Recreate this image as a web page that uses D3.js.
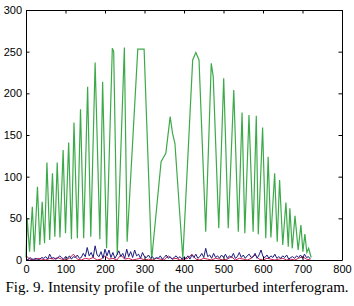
<!DOCTYPE html>
<html>
<head>
<meta charset="utf-8">
<script src="https://cdn.jsdelivr.net/npm/d3@7"></script>
<style>
  body { margin: 0; background: #fff; }
  svg { display: block; }
</style>
</head>
<body>
<svg id="chart" width="354" height="306"></svg>
<script>
// green: intensity profile (x, value)
var greenX = [0, 3, 9, 16, 21, 29, 35, 41, 47, 53, 60, 67, 73, 79, 86, 94, 100, 108, 115, 121.5, 130, 138, 146, 156, 164, 175, 187, 194, 204, 218.5, 222, 231, 249, 256, 283, 299, 318, 342, 354, 365, 371, 377, 397, 422, 430, 438, 455, 469, 474, 488, 500.5, 512, 526, 537.5, 547, 554, 564.5, 575, 583, 588, 599, 607, 613, 620, 629.5, 636, 642, 650, 658, 664, 668, 674, 681, 689, 696, 701, 706, 711, 715.5, 722];
var greenY = [3, 50, 10, 64, 10, 88, 18, 70, 20, 117, 24, 104, 28, 117, 27, 132, 32, 141, 25, 165, 26, 181, 26, 208, 28, 237, 25, 214, 14, 254, 250, 6, 255, 22, 253, 253, 0, 118, 128, 172, 152, 140, 2, 240, 249, 240, 34, 236, 220, 38, 218, 38, 204, 34, 177, 32, 174, 34, 173, 31, 159, 26, 124, 27, 104, 22, 96, 18, 69, 16, 62, 14, 53, 12, 42, 10, 31, 9, 14, 3];

// blue and red: low-level noise, sampled every 5 and 10 units
var blueStep = 5;
var blueY = [
  2, 0, 3, 1, 1, 2, 0, 1, 3, 2, 4, 1, 7, 2, 3, 1, 2, 5, 3, 1, 4,
  2, 5, 1, 4, 3, 6, 2, 3, 8, 4, 15, 5, 9, 3, 17, 6, 4, 10, 2, 13,
  5, 12, 3, 9, 2, 6, 11, 4, 8, 2, 13, 4, 10, 3, 12, 5, 7, 2, 9, 4,
  3, 6, 2, 4, 1, 3, 2, 5, 1, 3, 6, 2, 4, 1, 3, 5, 2, 4, 1, 3,
  2, 5, 1, 6, 3, 7, 2, 4, 8, 3, 14, 4, 6, 2, 8, 3, 5, 2, 6, 3,
  7, 2, 5, 3, 8, 2, 4, 9, 3, 6, 2, 5, 7, 3, 4, 8, 2, 6, 12, 4,
  3, 6, 2, 5, 3, 7, 2, 4, 2, 5, 3, 6, 1, 3, 4, 2, 5, 3, 6, 2,
  7, 3, 4, 1
];
var redStep = 10;
var redY = [
  5, 1, 0, 2, 1, 0, 2, 1, 3, 1, 0, 2, 7, 1, 0, 2, 1, 3, 0, 1,
  5, 1, 2, 0, 6, 1, 2, 0, 1, 2, 0, 1, 0, 2, 1, 0, 5, 1, 2, 0,
  1, 2, 7, 1, 0, 2, 1, 0, 2, 1, 0, 1, 4, 0, 2, 1, 0, 2, 6, 1,
  0, 2, 1, 0, 1, 2, 0, 1, 0, 2, 4, 1, 0
];

var xTicks = [0, 100, 200, 300, 400, 500, 600, 700, 800];
var yTicks = [0, 50, 100, 150, 200, 250, 300];
var caption = 'Fig. 9. Intensity profile of the unperturbed interferogram.';

var svg = d3.select('#chart');
var mLeft = 26, mRight = 342, mTop = 10, mBottom = 260;

var x = d3.scaleLinear().domain([0, 800]).range([mLeft, mRight]);
var y = d3.scaleLinear().domain([0, 300]).range([mBottom, mTop]);

var line = d3.line().x(d => x(d[0])).y(d => y(d[1]));

var green = greenX.map((v, i) => [v, greenY[i]]);
var blue = blueY.map((v, i) => [i * blueStep, v]);
var red = redY.map((v, i) => [i * redStep, v]);

svg.append('path').attr('d', line(green))
  .attr('fill', 'none').attr('stroke', '#3daa4a').attr('stroke-width', 1.2);
svg.append('path').attr('d', line(red))
  .attr('fill', 'none').attr('stroke', '#d0204f').attr('stroke-width', 1);
svg.append('path').attr('d', line(blue))
  .attr('fill', 'none').attr('stroke', '#1c1c80').attr('stroke-width', 1);

// axes, MATLAB style box with inward ticks
var tick = 3.5;
var font = 'Liberation Sans, Arial, sans-serif';

var xAxis = svg.append('g').attr('transform', `translate(0,${mBottom})`)
  .call(d3.axisBottom(x).tickValues(xTicks).tickSizeInner(-tick).tickSizeOuter(0).tickPadding(5));
var yAxis = svg.append('g').attr('transform', `translate(${mLeft},0)`)
  .call(d3.axisLeft(y).tickValues(yTicks).tickSizeInner(-tick).tickSizeOuter(0).tickPadding(4));
var xTop = svg.append('g').attr('transform', `translate(0,${mTop})`)
  .call(d3.axisTop(x).tickValues(xTicks).tickSizeInner(-tick).tickSizeOuter(0).tickFormat(''));
var yRight = svg.append('g').attr('transform', `translate(${mRight},0)`)
  .call(d3.axisRight(y).tickValues(yTicks).tickSizeInner(-tick).tickSizeOuter(0).tickFormat(''));

[xAxis, yAxis, xTop, yRight].forEach(g => {
  g.select('.domain').attr('stroke', '#000').attr('stroke-width', 1);
  g.selectAll('.tick line').attr('stroke', '#000');
  g.selectAll('text').attr('font-family', font).attr('font-size', 11).attr('fill', '#000');
});

svg.append('text')
  .attr('x', 177).attr('y', 292)
  .attr('text-anchor', 'middle')
  .attr('font-family', 'Liberation Serif, Times New Roman, serif')
  .attr('font-size', 15)
  .text(caption);
</script>
</body>
</html>
